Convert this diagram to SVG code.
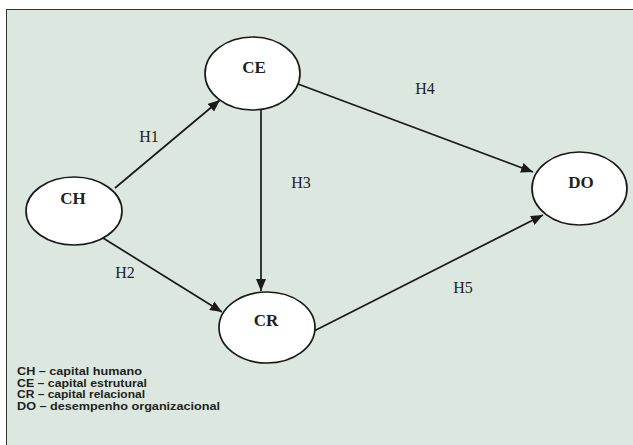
<svg xmlns="http://www.w3.org/2000/svg" width="633" height="445" viewBox="0 0 633 445">
<defs>
<style>
.node ellipse{fill:#fff;stroke:#1a1a1a;stroke-width:1.7}
.node text{font-family:"Liberation Serif",serif;font-weight:bold;font-size:17px;fill:#231f20;text-anchor:middle}
.edge line{stroke:#1a1a1a;stroke-width:1.7}
.lbl{font-family:"Liberation Serif",serif;font-size:16px;fill:#231f20;text-anchor:middle}
.leg{font-family:"Liberation Sans",sans-serif;font-weight:bold;font-size:10.5px;fill:#231f20}
</style>
<marker id="arr" viewBox="0 0 12 10" refX="12" refY="5" markerWidth="12" markerHeight="10" markerUnits="userSpaceOnUse" orient="auto">
<path d="M0,0 L12,5 L0,10 z" fill="#1a1a1a"/>
</marker>
</defs>
<rect x="6.5" y="9.5" width="630" height="440" fill="#dce7df" stroke="#333" stroke-width="1"/>
<g id="connectors" class="edge">
<line x1="115" y1="188" x2="220" y2="100" marker-end="url(#arr)"/>
<line x1="103" y1="238" x2="222" y2="312" marker-end="url(#arr)"/>
<line x1="261" y1="110" x2="261" y2="291" marker-end="url(#arr)"/>
<line x1="298" y1="84" x2="533" y2="172" marker-end="url(#arr)"/>
<line x1="314" y1="331" x2="543" y2="215" marker-end="url(#arr)"/>
<text class="lbl" x="149" y="142">H1</text>
<text class="lbl" x="125" y="278">H2</text>
<text class="lbl" x="301" y="188">H3</text>
<text class="lbl" x="425" y="94">H4</text>
<text class="lbl" x="463" y="293">H5</text>
</g>
<g id="CE" class="node"><ellipse cx="252.5" cy="73.5" rx="47.5" ry="36.5"/><text x="254" y="73">CE</text></g>
<g id="CH" class="node"><ellipse cx="74" cy="211" rx="48" ry="34"/><text x="73" y="204">CH</text></g>
<g id="CR" class="node"><ellipse cx="267" cy="327.5" rx="48" ry="35.5"/><text x="266" y="326">CR</text></g>
<g id="DO" class="node"><ellipse cx="579.5" cy="188.5" rx="47.5" ry="36.5"/><text x="581" y="188">DO</text></g>
<g id="legend">
<text class="leg" x="17" y="375" textLength="125" lengthAdjust="spacingAndGlyphs">CH – capital humano</text>
<text class="leg" x="17" y="386.5" textLength="130" lengthAdjust="spacingAndGlyphs">CE – capital estrutural</text>
<text class="leg" x="17" y="398" textLength="128" lengthAdjust="spacingAndGlyphs">CR – capital relacional</text>
<text class="leg" x="17" y="409.5" textLength="203" lengthAdjust="spacingAndGlyphs">DO – desempenho organizacional</text>
</g>
</svg>
